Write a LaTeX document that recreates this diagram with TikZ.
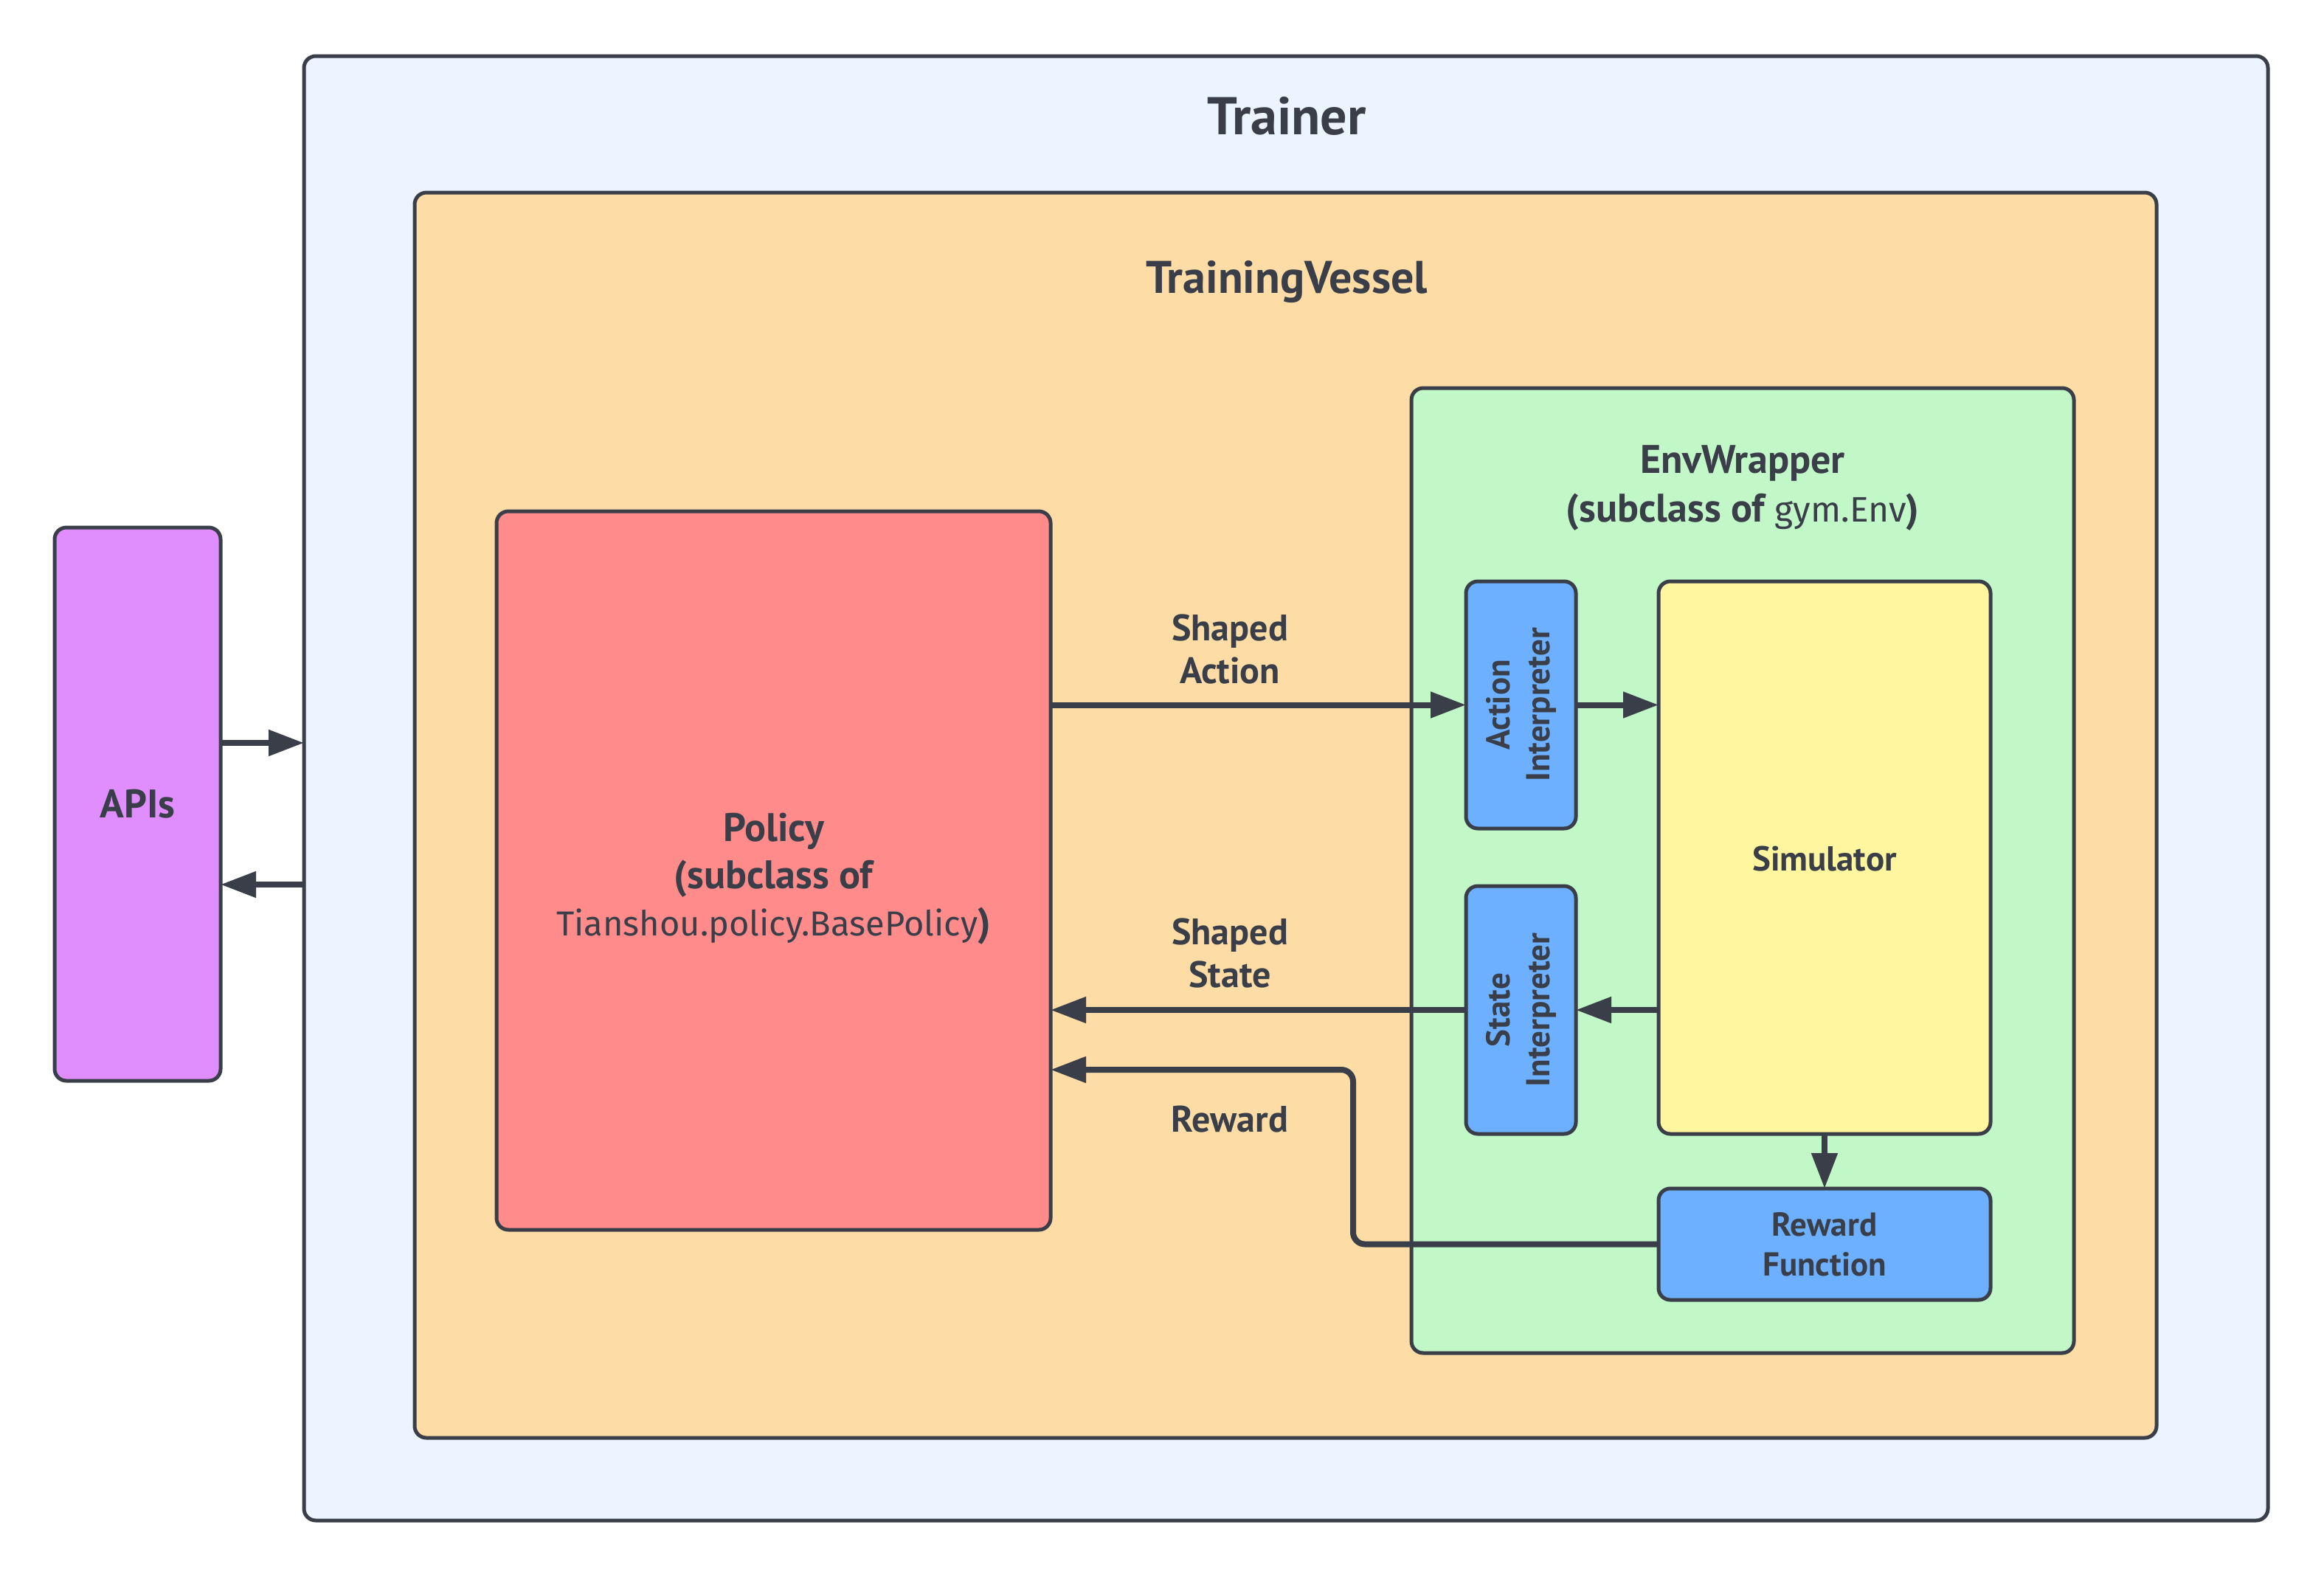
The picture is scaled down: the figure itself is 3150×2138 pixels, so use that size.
\documentclass[tikz,border=0pt]{standalone}
\usepackage{fontspec}
\setmainfont{PT Sans}
\newfontfamily\codefont{Fira Sans}
\usetikzlibrary{arrows.meta}
\definecolor{ink}{HTML}{393E48}
\definecolor{trainerfill}{HTML}{ECF4FF}
\definecolor{vesselfill}{HTML}{FDDCA5}
\definecolor{envfill}{HTML}{C2F7C8}
\definecolor{policyfill}{HTML}{FF8B8B}
\definecolor{apifill}{HTML}{E08DFE}
\definecolor{bluefill}{HTML}{6CB0FF}
\definecolor{simfill}{HTML}{FFF69F}
\tikzset{
  box/.style={draw=ink, line width=2.5pt, rounded corners=8pt, inner sep=0pt, outer sep=0pt},
  txt/.style={text=ink, font=\bfseries\fontsize{22.5}{27}\selectfont, align=center, inner sep=0pt},
  edgetxt/.style={txt, font=\bfseries\fontsize{25}{29}\selectfont},
  conn/.style={draw=ink, line width=4pt, -{Triangle[length=24pt,width=17pt]}},
}
\begin{document}
\begin{tikzpicture}[x=0.5pt,y=-0.5pt]
\useasboundingbox[fill=white] (0,0) rectangle (3150,2138);
% containers
\node[box, fill=trainerfill, minimum width=1331pt, minimum height=992.5pt] (trainer) at (1743,1068.5) {};
\node[txt, font=\bfseries\fontsize{36}{42}\selectfont] (trainerlbl) at (1744,157) {Trainer};
\node[box, fill=vesselfill, minimum width=1180.5pt, minimum height=844pt] (vessel) at (1742.5,1105) {};
\node[txt, font=\bfseries\fontsize{31}{36}\selectfont] (vessellbl) at (1744,382) {TrainingVessel};
\node[box, fill=envfill, minimum width=449pt, minimum height=654pt] (env) at (2362,1180) {};
\node[txt, font=\bfseries\fontsize{27}{33}\selectfont] (envlbl) at (2362,662) {EnvWrapper\\(subclass of {\mdseries\codefont\fontsize{24}{33}\selectfont gym.Env})};
% nodes
\node[box, fill=apifill, minimum width=112.5pt, minimum height=375pt] (apis) at (186.5,1090) {};
\node[txt, font=\bfseries\fontsize{27}{30}\selectfont] (apislbl) at (186.5,1090) {APIs};
\node[box, fill=policyfill, minimum width=375.5pt, minimum height=487pt] (policy) at (1048.5,1180) {};
\node[txt, font=\bfseries\fontsize{27}{32}\selectfont] (policylbl) at (1048.5,1191) {Policy\\(subclass of\\{\mdseries\codefont\fontsize{23.5}{32}\selectfont Tianshou.policy.BasePolicy})};
\node[box, fill=bluefill, minimum width=74.5pt, minimum height=167.5pt] (actint) at (2061.5,955.5) {};
\node[txt, rotate=90] (actintlbl) at (2061.5,955.5) {Action\\Interpreter};
\node[box, fill=bluefill, minimum width=74.5pt, minimum height=168pt] (stateint) at (2061.5,1369) {};
\node[txt, rotate=90] (stateintlbl) at (2061.5,1369) {State\\Interpreter};
\node[box, fill=simfill, minimum width=225pt, minimum height=374.5pt] (sim) at (2473,1162.5) {};
\node[txt, font=\bfseries\fontsize{23.5}{27}\selectfont] (simlbl) at (2473,1164) {Simulator};
\node[box, fill=bluefill, minimum width=225pt, minimum height=75.5pt] (rf) at (2473,1686.5) {};
\node[txt] (rflbl) at (2473,1686.5) {Reward\\Function};
% edge labels
\node[edgetxt] (l1) at (1667,880) {Shaped\\Action};
\node[edgetxt] (l2) at (1667,1292) {Shaped\\State};
\node[edgetxt] (l3) at (1667,1517) {Reward};
% connectors
\coordinate (a1) at (0,1007);
\coordinate (a2) at (0,1199);
\coordinate (bend) at (1834,1450);
\draw[conn] (apis.east |- a1) -- (trainer.west |- a1);
\draw[conn] (trainer.west |- a2) -- (apis.east |- a2);
\draw[conn] (policy.east |- actint) -- (actint.west);
\draw[conn] (actint.east) -- (sim.west |- actint);
\draw[conn] (sim.west |- stateint) -- (stateint.east);
\draw[conn] (stateint.west) -- (policy.east |- stateint);
\draw[conn] (sim.south) -- (rf.north);
\draw[conn, rounded corners=8pt] (rf.west) -| (bend) -- (policy.east |- bend);
\end{tikzpicture}
\end{document}
